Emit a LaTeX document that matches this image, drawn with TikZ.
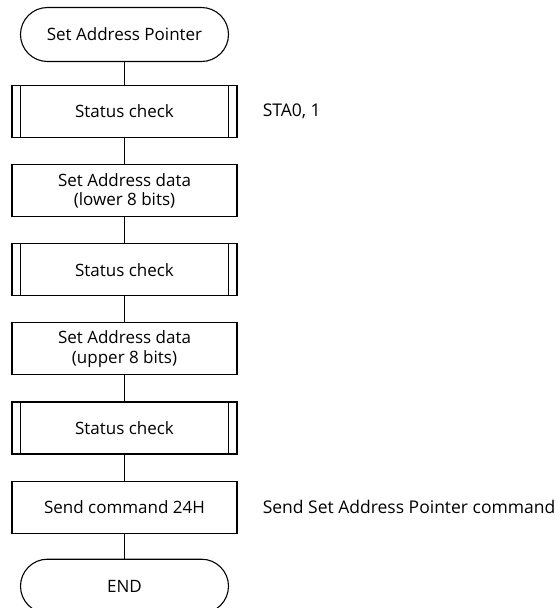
\documentclass[tikz,border=0pt]{standalone}
\usepackage{fontspec}
\setmainfont{Open Sans}
\usetikzlibrary{positioning}

\tikzset{
  base/.style={draw, line width=1.1pt, minimum width=225pt, minimum height=52pt,
    align=center, inner sep=2pt, font=\fontsize{17}{19.5}\selectfont},
  terminal/.style={base, minimum width=208pt, minimum height=54pt, rounded corners=27pt},
  process/.style={base},
  subproc/.style={base, path picture={
    \draw[line width=1.1pt]
      ([xshift=8.5pt]path picture bounding box.north west) -- ([xshift=8.5pt]path picture bounding box.south west)
      ([xshift=-8.5pt]path picture bounding box.north east) -- ([xshift=-8.5pt]path picture bounding box.south east);}},
  note/.style={anchor=west, inner sep=0pt, font=\fontsize{17.5}{20}\selectfont},
  flow/.style={line width=1.1pt}
}

\begin{document}
\begin{tikzpicture}[x=1pt, y=1pt, node distance=26pt]
\useasboundingbox (0,0) rectangle (557,-608);

% start:
\node[terminal] (start) at (124.5,-34.5) {Set Address Pointer};

% steps:
\node[subproc, below=23pt of start] (chk1) {Status check};
\node[process, below=of chk1] (low) {Set Address data\\(lower 8 bits)};
\node[subproc, below=of low] (chk2) {Status check};
\node[process, below=of chk2] (up) {Set Address data\\(upper 8 bits)};
\node[subproc, below=of up] (chk3) {Status check};
\node[process, below=of chk3] (cmd) {Send command 24H};

% end:
\node[terminal, below=25pt of cmd] (stop) {END};

% notes:
\node[note, right=25pt of cmd] (send) {Send Set Address Pointer command};
\node[note] (sta) at (chk1.east -| send.west) {STA0, 1};

% connectors:
\draw[flow] (start) -- (chk1);
\draw[flow] (chk1) -- (low);
\draw[flow] (low) -- (chk2);
\draw[flow] (chk2) -- (up);
\draw[flow] (up) -- (chk3);
\draw[flow] (chk3) -- (cmd);
\draw[flow] (cmd) -- (stop);
\end{tikzpicture}
\end{document}
